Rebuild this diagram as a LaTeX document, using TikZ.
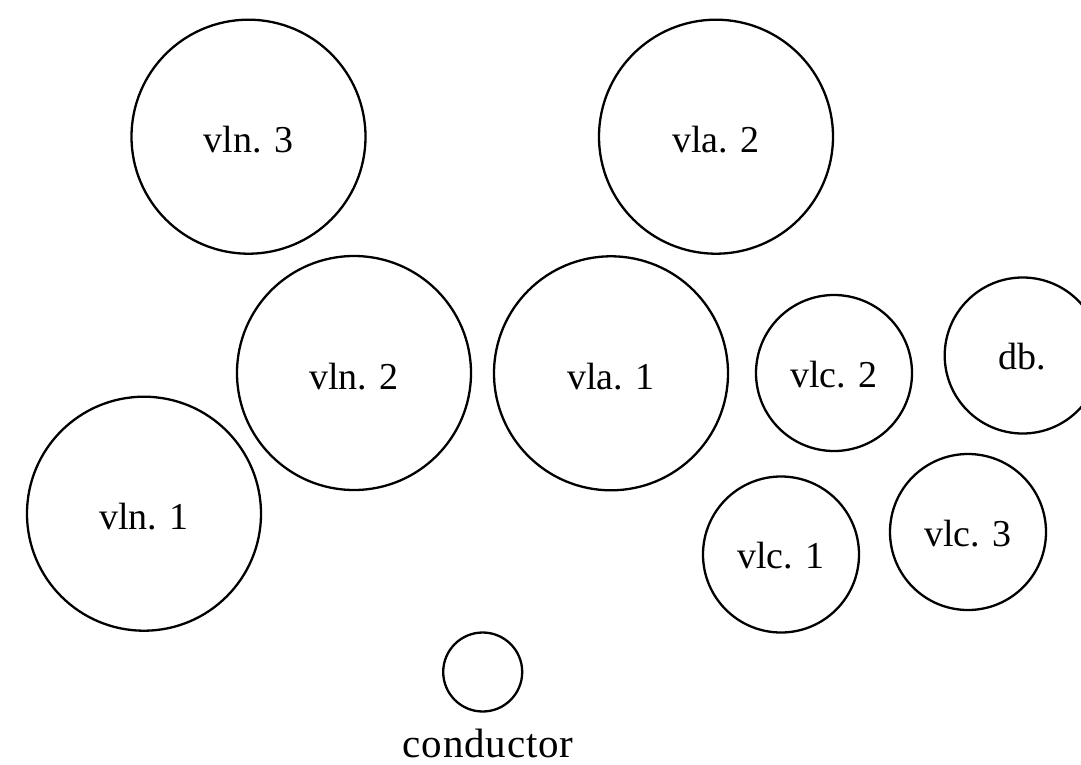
\documentclass[tikz,border=0pt]{standalone}
\usepackage{fontspec}
\setmainfont{Liberation Serif}
\begin{document}
\begin{tikzpicture}[x=1pt,y=-1pt,
  player/.style={draw, circle, line width=2.3pt, inner sep=0pt, text depth=0pt,
    font=\fontsize{38}{45}\selectfont},
  big/.style={player, minimum size=234pt, text height=32pt},
  small/.style={player, minimum size=156pt, text height=28pt},
  tiny/.style={player, minimum size=79pt},
  lbl/.style={font=\fontsize{41}{48}\selectfont\addfontfeature{LetterSpace=2}, inner sep=0pt, anchor=base}]
\useasboundingbox (0,0) rectangle (1081,765);
\clip (0,0) rectangle (1081,765);
\node[big] (vln3) at (248.5,136.7) {vln. 3};
\node[big] (vla2) at (716,136.7) {vla. 2};
\node[big] (vln2) at (354,373) {vln. 2};
\node[big] (vla1) at (611,373.3) {vla. 1};
\node[small] (vlc2) at (834,373) {vlc. 2};
\node[small] (db) at (1022.7,355.5) {db.};
\node[big] (vln1) at (144,513.7) {vln. 1};
\node[small] (vlc1) at (781,554.5) {vlc. 1};
\node[small] (vlc3) at (968,532) {vlc. 3};
\node[tiny] (cond) at (482.7,672) {};
\node[lbl] (condlbl) at (488,757) {conductor};
\end{tikzpicture}
\end{document}
